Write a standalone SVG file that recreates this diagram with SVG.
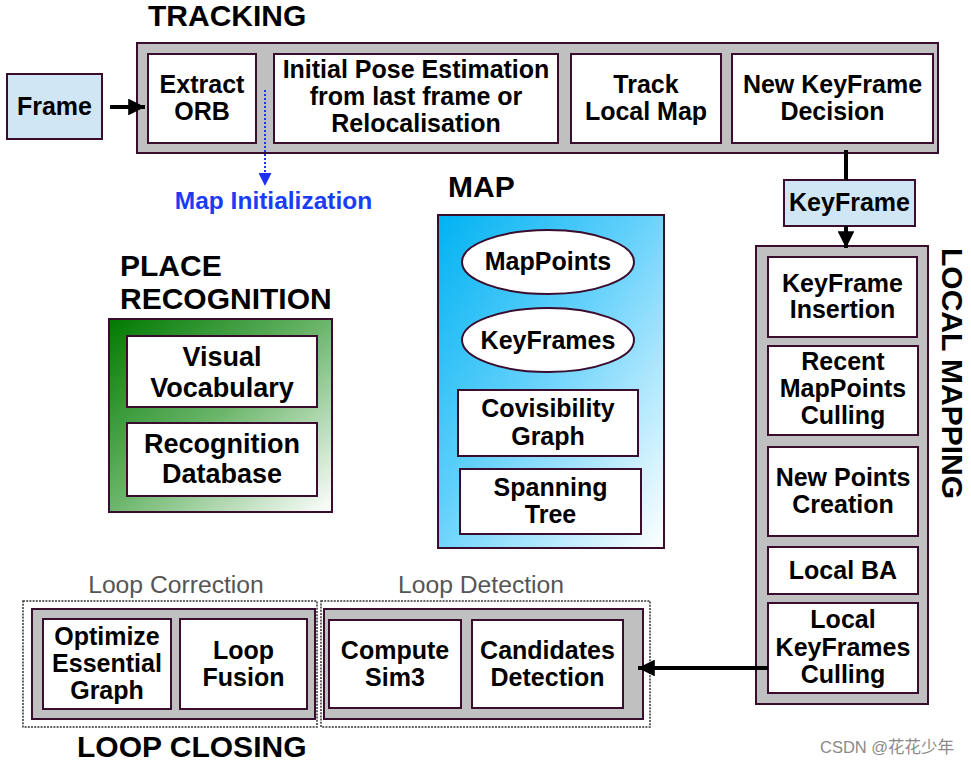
<svg xmlns="http://www.w3.org/2000/svg" width="971" height="766" viewBox="0 0 971 766">
<defs>
<linearGradient id="gMap" x1="0" y1="0" x2="1" y2="1">
<stop offset="0" stop-color="#00b2f2"/>
<stop offset="0.45" stop-color="#62d0fb"/>
<stop offset="1" stop-color="#ffffff"/>
</linearGradient>
<linearGradient id="gPlace" x1="0" y1="0" x2="1" y2="1">
<stop offset="0" stop-color="#007a00"/>
<stop offset="0.5" stop-color="#6cb66c"/>
<stop offset="1" stop-color="#ffffff"/>
</linearGradient>
<marker id="ah" viewBox="0 0 10 10" refX="10" refY="5" markerWidth="5.5" markerHeight="4.2" markerUnits="strokeWidth" orient="auto">
<path d="M0,0 L10,5 L0,10 Z" fill="#000"/>
</marker>
<marker id="ahb" viewBox="0 0 10 10" refX="10" refY="5" markerWidth="8.5" markerHeight="6.5" markerUnits="strokeWidth" orient="auto">
<path d="M0,0 L10,5 L0,10 Z" fill="#1f32f0"/>
</marker>
</defs>
<style>
.gray{fill:#c0c0c0;stroke:#3a0d2e;stroke-width:2}
.box{fill:#ffffff;stroke:#3a0d2e;stroke-width:2}
.lb{fill:#d0e6f4;stroke:#3a0d2e;stroke-width:2}
.dot{fill:none;stroke:#333;stroke-width:1.5;stroke-dasharray:2 1.2}
text{font-family:"Liberation Sans",Arial,sans-serif;fill:#000}
.t{font-size:25px;font-weight:bold;text-anchor:middle}
.t2{font-size:27px;font-weight:bold;text-anchor:middle}
.h{font-size:30px;font-weight:bold}
.lab{font-size:24.7px;fill:#555;text-anchor:middle}
.con{stroke:#000;stroke-width:4;fill:none}
</style>

<text class="h" x="148" y="26">TRACKING</text>
<text class="h" x="448" y="197">MAP</text>
<text class="h" x="120" y="276">PLACE</text>
<text class="h" x="120" y="309">RECOGNITION</text>
<text class="h" x="77" y="757">LOOP CLOSING</text>
<text class="h" transform="translate(942,248) rotate(90)">LOCAL MAPPING</text>
<text class="lab" x="176" y="593">Loop Correction</text>
<text class="lab" x="481" y="593">Loop Detection</text>

<g id="frame"><rect class="lb" x="7" y="74" width="95" height="65"/><text class="t" x="54.5" y="115">Frame</text></g>

<g id="tracking"><rect class="gray" x="137" y="43" width="801" height="110"/></g>
<g id="extract-orb"><rect class="box" x="148" y="54" width="108" height="89"/><text class="t" x="202" y="93">Extract</text><text class="t" x="202" y="120">ORB</text></g>
<g id="initial-pose"><rect class="box" x="274" y="54" width="284" height="89"/><text class="t" x="416" y="78">Initial Pose Estimation</text><text class="t" x="416" y="105">from last frame or</text><text class="t" x="416" y="132">Relocalisation</text></g>
<g id="track-local-map"><rect class="box" x="571" y="54" width="150" height="89"/><text class="t" x="646" y="93">Track</text><text class="t" x="646" y="120">Local Map</text></g>
<g id="new-keyframe-decision"><rect class="box" x="732" y="54" width="201" height="89"/><text class="t" x="832.5" y="93">New KeyFrame</text><text class="t" x="832.5" y="120">Decision</text></g>

<g id="keyframe"><rect class="lb" x="784" y="180" width="131" height="46"/><text class="t" x="849.5" y="211">KeyFrame</text></g>

<g id="map-initialization"><text x="273.5" y="209" style="font-size:24.5px;font-weight:bold;fill:#1a3cf5;text-anchor:middle">Map Initialization</text></g>

<g id="map"><rect x="438" y="215" width="226" height="333" style="fill:url(#gMap);stroke:#3a0d2e;stroke-width:2"/></g>
<g id="mappoints"><ellipse class="box" cx="548" cy="262" rx="86" ry="32"/><text class="t" x="548" y="270">MapPoints</text></g>
<g id="keyframes"><ellipse class="box" cx="548" cy="340" rx="86" ry="32"/><text class="t" x="548" y="349">KeyFrames</text></g>
<g id="covisibility-graph"><rect class="box" x="458" y="390" width="180" height="66"/><text class="t" x="548" y="417">Covisibility</text><text class="t" x="548" y="445">Graph</text></g>
<g id="spanning-tree"><rect class="box" x="460" y="469" width="181" height="65"/><text class="t" x="550.5" y="496">Spanning</text><text class="t" x="550.5" y="523">Tree</text></g>

<g id="place-recognition"><rect x="109" y="319" width="223" height="193" style="fill:url(#gPlace);stroke:#3a0d2e;stroke-width:2"/></g>
<g id="visual-vocabulary"><rect class="box" x="127" y="336" width="190" height="71"/><text class="t2" x="222" y="366">Visual</text><text class="t2" x="222" y="397">Vocabulary</text></g>
<g id="recognition-database"><rect class="box" x="127" y="423" width="190" height="73"/><text class="t2" x="222" y="453">Recognition</text><text class="t2" x="222" y="483">Database</text></g>

<g id="local-mapping"><rect class="gray" x="756" y="246" width="172" height="458"/></g>
<g id="keyframe-insertion"><rect class="box" x="768" y="257" width="149" height="80"/><text class="t" x="842.5" y="292">KeyFrame</text><text class="t" x="842.5" y="318">Insertion</text></g>
<g id="recent-mappoints-culling"><rect class="box" x="768" y="346" width="150" height="89"/><text class="t" x="843" y="370">Recent</text><text class="t" x="843" y="397">MapPoints</text><text class="t" x="843" y="424">Culling</text></g>
<g id="new-points-creation"><rect class="box" x="768" y="447" width="150" height="89"/><text class="t" x="843" y="486">New Points</text><text class="t" x="843" y="513">Creation</text></g>
<g id="local-ba"><rect class="box" x="768" y="547" width="150" height="47"/><text class="t" x="843" y="579">Local BA</text></g>
<g id="local-keyframes-culling"><rect class="box" x="768" y="603" width="150" height="90"/><text class="t" x="843" y="628">Local</text><text class="t" x="843" y="656">KeyFrames</text><text class="t" x="843" y="683">Culling</text></g>

<g id="loop-correction"><rect class="dot" x="23" y="601" width="294" height="126"/><rect class="gray" x="32" y="609" width="283" height="110"/></g>
<g id="optimize-essential-graph"><rect class="box" x="43" y="619" width="128" height="90"/><text class="t" x="107" y="645">Optimize</text><text class="t" x="107" y="672">Essential</text><text class="t" x="107" y="699">Graph</text></g>
<g id="loop-fusion"><rect class="box" x="180" y="619" width="127" height="90"/><text class="t" x="243.5" y="659">Loop</text><text class="t" x="243.5" y="686">Fusion</text></g>
<g id="loop-detection"><rect class="dot" x="321" y="601" width="329" height="126"/><rect class="gray" x="324" y="609" width="319" height="110"/></g>
<g id="compute-sim3"><rect class="box" x="329" y="620" width="132" height="88"/><text class="t" x="395" y="659">Compute</text><text class="t" x="395" y="686">Sim3</text></g>
<g id="candidates-detection"><rect class="box" x="472" y="620" width="151" height="88"/><text class="t" x="547.5" y="659">Candidates</text><text class="t" x="547.5" y="686">Detection</text></g>

<g id="connectors">
<line class="con" x1="110" y1="107" x2="145" y2="107" marker-end="url(#ah)"/>
<line class="con" x1="846" y1="150" x2="846" y2="180"/>
<line class="con" x1="846" y1="226" x2="846" y2="248" marker-end="url(#ah)"/>
<line class="con" x1="768" y1="668" x2="638" y2="668" marker-end="url(#ah)"/>
<line x1="265" y1="90" x2="265" y2="186" style="stroke:#1f32f0;stroke-width:2;stroke-dasharray:2 2" marker-end="url(#ahb)"/>
</g>

<text x="820" y="753" style="font-family:'Liberation Sans','Noto Sans CJK SC',sans-serif;font-size:16.5px;fill:#8a8a8a">CSDN @花花少年</text>
</svg>
